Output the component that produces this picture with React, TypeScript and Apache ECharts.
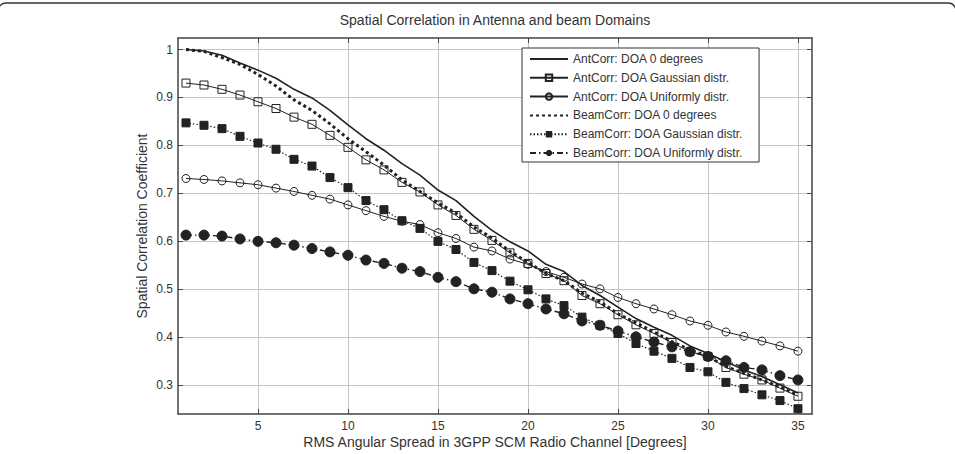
import React, { useEffect, useRef } from "react";
import * as echarts from "echarts";

// Angular spread values (degrees)
const spread = [1, 2, 3, 4, 5, 6, 7, 8, 9, 10, 11, 12, 13, 14, 15, 16, 17, 18, 19, 20, 21, 22, 23, 24, 25, 26, 27, 28, 29, 30, 31, 32, 33, 34, 35];

const antZero = [1.0, 0.997, 0.988, 0.972, 0.957, 0.94, 0.917, 0.899, 0.873, 0.843, 0.814, 0.79, 0.762, 0.738, 0.707, 0.685, 0.652, 0.623, 0.599, 0.58, 0.552, 0.537, 0.508, 0.487, 0.463, 0.439, 0.421, 0.404, 0.382, 0.366, 0.349, 0.332, 0.318, 0.301, 0.284];
const antGauss = [0.93, 0.926, 0.917, 0.905, 0.891, 0.877, 0.859, 0.844, 0.821, 0.796, 0.77, 0.749, 0.723, 0.703, 0.676, 0.654, 0.625, 0.602, 0.576, 0.554, 0.533, 0.518, 0.487, 0.47, 0.447, 0.426, 0.408, 0.389, 0.37, 0.36, 0.337, 0.323, 0.311, 0.294, 0.277];
const antUni = [0.731, 0.729, 0.726, 0.722, 0.718, 0.711, 0.704, 0.696, 0.688, 0.676, 0.664, 0.652, 0.642, 0.635, 0.618, 0.606, 0.588, 0.58, 0.563, 0.552, 0.537, 0.525, 0.511, 0.501, 0.483, 0.47, 0.459, 0.447, 0.434, 0.425, 0.411, 0.402, 0.392, 0.382, 0.371];
const beamZero = [1.0, 0.996, 0.983, 0.969, 0.948, 0.924, 0.895, 0.873, 0.845, 0.814, 0.787, 0.759, 0.728, 0.704, 0.68, 0.659, 0.63, 0.607, 0.579, 0.556, 0.533, 0.518, 0.492, 0.474, 0.449, 0.43, 0.411, 0.391, 0.374, 0.36, 0.339, 0.325, 0.311, 0.296, 0.279];
const beamGauss = [0.847, 0.842, 0.835, 0.819, 0.805, 0.792, 0.771, 0.757, 0.733, 0.712, 0.685, 0.666, 0.643, 0.627, 0.6, 0.583, 0.556, 0.539, 0.517, 0.499, 0.48, 0.466, 0.442, 0.425, 0.408, 0.387, 0.371, 0.356, 0.337, 0.328, 0.306, 0.293, 0.28, 0.268, 0.251];
const beamUni = [0.613, 0.613, 0.611, 0.605, 0.6, 0.597, 0.592, 0.585, 0.578, 0.571, 0.561, 0.554, 0.544, 0.537, 0.525, 0.516, 0.501, 0.494, 0.48, 0.47, 0.459, 0.449, 0.434, 0.425, 0.413, 0.401, 0.39, 0.38, 0.37, 0.36, 0.351, 0.337, 0.332, 0.32, 0.311];

const seriesNames = [
  "AntCorr: DOA 0 degrees",
  "AntCorr: DOA Gaussian distr.",
  "AntCorr: DOA Uniformly distr.",
  "BeamCorr: DOA 0 degrees",
  "BeamCorr: DOA Gaussian distr.",
  "BeamCorr: DOA Uniformly distr.",
];

const xTicks = [5, 10, 15, 20, 25, 30, 35];
const yTicks = [0.3, 0.4, 0.5, 0.6, 0.7, 0.8, 0.9, 1.0];

const FONT = "'Liberation Sans', Arial, Helvetica, sans-serif";
const INK = "#222";
const AXIS = "#444";
const GRID = "#c4c4c4";
const FRAME = "#333";

const pairs = (ys: number[]) => spread.map((x, i) => [x, ys[i]]);

export default function App() {
  const ref = useRef<HTMLDivElement>(null);

  useEffect(() => {
    if (!ref.current) return;
    const chart = echarts.init(ref.current, null, { renderer: "svg" });

    const baseX = {
      type: "value" as const,
      min: 0.556,
      max: 35.78,
      axisLine: { show: true, onZero: false, lineStyle: { color: AXIS, width: 1.5 } },
      axisTick: { show: true, inside: true, length: 5, customValues: xTicks, lineStyle: { color: AXIS, width: 1 } },
    };
    const baseY = {
      type: "value" as const,
      min: 0.24,
      max: 1.024,
      axisLine: { show: true, onZero: false, lineStyle: { color: AXIS, width: 1.5 } },
      axisTick: { show: true, inside: true, length: 5, customValues: yTicks, lineStyle: { color: AXIS, width: 1 } },
    };

    const option: any = {
      animation: false,
      backgroundColor: "#fff",
      textStyle: { fontFamily: FONT },
      grid: { left: 178, right: 143, top: 38, bottom: 36, containLabel: false },
      graphic: [
        // rounded frame along the top edge
        {
          type: "line",
          silent: true,
          z: 100,
          shape: { x1: 6, y1: 3, x2: 948, y2: 3 },
          style: { stroke: FRAME, lineWidth: 1.4 },
        },
        {
          type: "arc",
          silent: true,
          z: 100,
          shape: { cx: 948, cy: 11, r: 8, startAngle: -Math.PI / 2, endAngle: -0.35, clockwise: true },
          style: { stroke: FRAME, lineWidth: 1.4, fill: "none" },
        },
        {
          type: "arc",
          silent: true,
          z: 100,
          shape: { cx: 6, cy: 11, r: 8, startAngle: Math.PI + 0.6, endAngle: (3 * Math.PI) / 2, clockwise: true },
          style: { stroke: FRAME, lineWidth: 1.4, fill: "none" },
        },
        {
          type: "text",
          silent: true,
          x: 495,
          y: 20,
          style: {
            text: "Spatial Correlation in Antenna and beam Domains",
            font: `14px ${FONT}`,
            fill: "#333",
            align: "center",
            verticalAlign: "middle",
          },
        },
      ],
      xAxis: [
        {
          ...baseX,
          position: "bottom",
          name: "RMS Angular Spread in 3GPP SCM Radio Channel [Degrees]",
          nameLocation: "middle",
          nameGap: 21,
          nameMoveOverlap: false,
          nameTextStyle: { fontFamily: FONT, fontSize: 14, color: "#333" },
          axisLabel: { show: true, customValues: xTicks, margin: 6, fontFamily: FONT, fontSize: 12, color: "#333" },
          splitLine: { show: true, lineStyle: { color: GRID, width: 1 } },
        },
        {
          ...baseX,
          position: "top",
          axisLabel: { show: false },
          splitLine: { show: false },
        },
      ],
      yAxis: [
        {
          ...baseY,
          position: "left",
          name: "Spatial Correlation Coefficient",
          nameLocation: "middle",
          nameGap: 29,
          nameMoveOverlap: false,
          nameTextStyle: { fontFamily: FONT, fontSize: 14, color: "#333" },
          axisLabel: {
            show: true,
            customValues: yTicks,
            margin: 5,
            fontFamily: FONT,
            fontSize: 12,
            color: "#333",
            formatter: (v: number) => (v === 1 ? "1" : v.toFixed(1)),
          },
          splitLine: { show: true, lineStyle: { color: GRID, width: 1 } },
        },
        {
          ...baseY,
          position: "right",
          axisLabel: { show: false },
          splitLine: { show: false },
        },
      ],
      legend: {
        orient: "vertical",
        left: 522,
        top: 48,
        padding: [5, 16, 3, 7],
        itemWidth: 38,
        itemHeight: 8,
        itemGap: 6.8,
        backgroundColor: "#fff",
        borderColor: "#333",
        borderWidth: 1,
        textStyle: { fontFamily: FONT, fontSize: 12, color: "#333" },
        data: [
          { name: seriesNames[0], itemStyle: { opacity: 0 } },
          { name: seriesNames[1] },
          { name: seriesNames[2] },
          { name: seriesNames[3], itemStyle: { opacity: 0 } },
          { name: seriesNames[4] },
          { name: seriesNames[5] },
        ],
      },
      series: [
        {
          name: seriesNames[0],
          type: "line",
          data: pairs(antZero),
          symbol: "none",
          lineStyle: { color: INK, width: 1.6, type: "solid" },
          itemStyle: { color: INK },
          z: 5,
        },
        {
          name: seriesNames[1],
          type: "line",
          data: pairs(antGauss),
          symbol: "rect",
          symbolSize: 8,
          lineStyle: { color: INK, width: 1, type: "solid" },
          itemStyle: { color: "rgba(255,255,255,0)", borderColor: INK, borderWidth: 1 },
          z: 4,
        },
        {
          name: seriesNames[2],
          type: "line",
          data: pairs(antUni),
          symbol: "circle",
          symbolSize: 8,
          lineStyle: { color: INK, width: 1, type: "solid" },
          itemStyle: { color: "rgba(255,255,255,0)", borderColor: INK, borderWidth: 1 },
          z: 4,
        },
        {
          name: seriesNames[3],
          type: "line",
          data: pairs(beamZero),
          symbol: "none",
          lineStyle: { color: INK, width: 3, type: [3, 3] },
          itemStyle: { color: INK },
          z: 3,
        },
        {
          name: seriesNames[4],
          type: "line",
          data: pairs(beamGauss),
          symbol: "rect",
          symbolSize: 8,
          lineStyle: { color: INK, width: 1.2, type: [1.5, 2] },
          itemStyle: { color: INK, borderColor: INK },
          z: 3,
        },
        {
          name: seriesNames[5],
          type: "line",
          data: pairs(beamUni),
          symbol: "circle",
          symbolSize: 10,
          lineStyle: { color: INK, width: 1.4, type: [6, 3, 1.5, 3] },
          itemStyle: { color: INK, borderColor: INK },
          z: 3,
        },
      ],
    };

    chart.setOption(option);
    return () => chart.dispose();
  }, []);

  return (
    <div
      ref={ref}
      style={{ position: "absolute", left: 0, top: 0, width: 955, height: 454 }}
    />
  );
}
